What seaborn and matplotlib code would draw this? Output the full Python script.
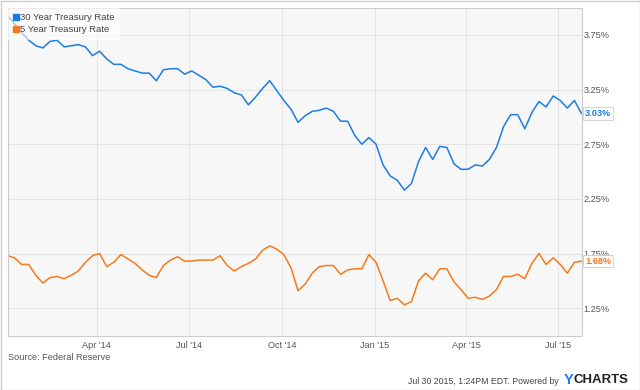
import matplotlib
matplotlib.use("Agg")
from matplotlib import pyplot as plt
from matplotlib.lines import Line2D
from matplotlib.patches import Rectangle
import matplotlib.dates as mdates
import numpy as np
import pandas as pd
import seaborn as sns

# weekly observations, Jan 3 2014 .. Jul 24 2015
start_date = "2014-01-03"
n_weeks = 82

rate_30y = [3.93, 3.85, 3.77, 3.70, 3.65, 3.63, 3.69, 3.70, 3.64, 3.65,
            3.66, 3.64, 3.56, 3.60, 3.53, 3.48, 3.48, 3.44, 3.42, 3.40,
            3.40, 3.33, 3.43, 3.44, 3.44, 3.39, 3.42, 3.38, 3.34, 3.27,
            3.28, 3.26, 3.22, 3.20, 3.11, 3.18, 3.26, 3.33, 3.24, 3.15,
            3.07, 2.95, 3.01, 3.05, 3.06, 3.08, 3.05, 2.96, 2.96, 2.83,
            2.75, 2.81, 2.75, 2.56, 2.46, 2.42, 2.33, 2.39, 2.59, 2.72,
            2.61, 2.73, 2.72, 2.57, 2.52, 2.52, 2.56, 2.55, 2.61, 2.72,
            2.91, 3.02, 3.02, 2.89, 3.04, 3.14, 3.09, 3.19, 3.15, 3.08,
            3.15, 3.03]

rate_5y = [1.73, 1.71, 1.65, 1.65, 1.55, 1.48, 1.53, 1.54, 1.52, 1.55,
           1.59, 1.67, 1.73, 1.75, 1.63, 1.67, 1.74, 1.70, 1.66, 1.60,
           1.55, 1.53, 1.64, 1.69, 1.72, 1.68, 1.68, 1.69, 1.69, 1.69,
           1.73, 1.64, 1.59, 1.63, 1.66, 1.70, 1.78, 1.82, 1.79, 1.74,
           1.62, 1.41, 1.47, 1.57, 1.63, 1.64, 1.64, 1.56, 1.60, 1.61,
           1.61, 1.74, 1.67, 1.50, 1.32, 1.34, 1.28, 1.31, 1.50, 1.57,
           1.51, 1.61, 1.61, 1.49, 1.42, 1.34, 1.35, 1.33, 1.36, 1.42,
           1.54, 1.54, 1.56, 1.52, 1.66, 1.75, 1.65, 1.71, 1.65, 1.57,
           1.67, 1.68]

series_names = ["30 Year Treasury Rate", "5 Year Treasury Rate"]
series_colors = ["#1c7ce4", "#f8791b"]
y_ticks = [1.25, 1.75, 2.25, 2.75, 3.25, 3.75]
x_ticks = ["2014-04-01", "2014-07-01", "2014-10-01", "2015-01-01", "2015-04-01", "2015-07-01"]

dates = pd.date_range(start_date, periods=n_weeks, freq="7D")
df = pd.DataFrame({
    "date": np.concatenate([dates, dates]),
    "rate": rate_30y + rate_5y,
    "series": [series_names[0]] * n_weeks + [series_names[1]] * n_weeks,
})

sns.set_theme(style="white")
plt.rcParams["font.family"] = ["Liberation Sans", "DejaVu Sans"]

fig = plt.figure(figsize=(6.4, 3.9), dpi=100)
ax = fig.add_axes([7.5 / 640, 1 - 335.5 / 390, 574 / 640, 328 / 390])
ax.set_facecolor("#f7f7f7")

sns.lineplot(data=df, x="date", y="rate", hue="series", hue_order=series_names,
             palette=series_colors, linewidth=1.1, ax=ax, legend=False)

ax.set_xlim(dates[0], dates[-1])
ax.set_ylim(1.0, 4.0)
ax.set_xlabel("")
ax.set_ylabel("")

ax.yaxis.tick_right()
ax.set_yticks(y_ticks)
ax.set_yticklabels(["%.2f%%" % v for v in y_ticks])
ax.set_xticks(pd.to_datetime(x_ticks))
ax.xaxis.set_major_formatter(mdates.DateFormatter("%b '%y"))
ax.tick_params(axis="y", length=0, pad=1.5, labelsize=6.6, labelcolor="#555555")
ax.tick_params(axis="x", length=0, pad=4, labelsize=6.6, labelcolor="#555555")
ax.grid(True, color="#e4e4e4", linewidth=0.7)
for s in ax.spines.values():
    s.set_color("#cccccc")
    s.set_linewidth(0.8)

# legend
handles = [Line2D([], [], linestyle="none", marker="s", markersize=4.5,
                  markerfacecolor=c, markeredgecolor=c) for c in series_colors]
leg = ax.legend(handles, series_names, loc="upper left", bbox_to_anchor=(0, 1),
                borderaxespad=0.0, frameon=True, fancybox=False, fontsize=6.8,
                handlelength=0.7, handletextpad=0.05, labelspacing=0.35,
                borderpad=0.6, labelcolor="#444444")
leg.get_frame().set_facecolor("white")
leg.get_frame().set_alpha(0.6)
leg.get_frame().set_linewidth(0)

# last value tags
for vals, c in zip([rate_30y, rate_5y], series_colors):
    ax.annotate("%.2f%%" % vals[-1], xy=(1.0, vals[-1]),
                xycoords=("axes fraction", "data"), xytext=(2.5, 0),
                textcoords="offset points", ha="left", va="center",
                fontsize=6.6, fontweight="bold", color=c,
                bbox=dict(boxstyle="square,pad=0.2", facecolor="white",
                          edgecolor="#cccccc", linewidth=0.6))

fig.text(8 / 640, 1 - 358 / 390, "Source: Federal Reserve", fontsize=6.6,
         color="#555555", ha="left", va="center")
fig.text(561 / 640, 1 - 381 / 390, "Jul 30 2015, 1:24PM EDT. Powered by ",
         fontsize=6.3, color="#444444", ha="right", va="center")
fig.text(573 / 640, 1 - 380 / 390, "Y", fontsize=10.5, fontweight="bold",
         color="#1c7ce4", ha="right", va="center")
fig.text(573 / 640, 1 - 380 / 390, "CHARTS", fontsize=9.5, fontweight="bold",
         color="#222222", ha="left", va="center")

fig.patches.append(Rectangle((0.5 / 640, 0.5 / 390), 639 / 640, 389 / 390,
                             transform=fig.transFigure, fill=False,
                             edgecolor="#cccccc", linewidth=1.0))

fig.savefig("out.png", dpi=100)
